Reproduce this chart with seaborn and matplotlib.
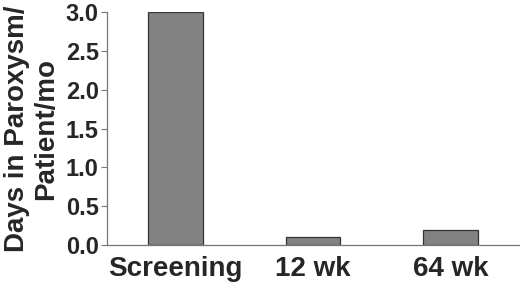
import matplotlib
matplotlib.use("Agg")
import matplotlib.pyplot as plt
import numpy as np
import pandas as pd
import seaborn as sns

# data
categories = ["Screening", "12 wk", "64 wk"]
days = [3.0, 0.1, 0.2]
yticks = [0.0, 0.5, 1.0, 1.5, 2.0, 2.5, 3.0]

sns.set_style("white")
plt.rcParams["font.family"] = ["Liberation Sans", "DejaVu Sans"]
plt.rcParams["font.weight"] = "bold"

df = pd.DataFrame({"period": categories, "days": days})

fig = plt.figure(figsize=(5.2, 2.84), dpi=100)
ax = fig.add_axes([0.206, 0.137, 0.792, 0.821])

sns.barplot(data=df, x="period", y="days", ax=ax, width=0.4,
            color="#828282", saturation=1, edgecolor="#333333", linewidth=0.9)

ax.set_xlim(-0.5, 2.5)
ax.set_ylim(0, 3.0)
ax.set_yticks(yticks)
ax.set_yticklabels(["%.1f" % t for t in yticks], fontsize=17, fontweight="bold")
ax.set_xticks(range(len(categories)))
ax.set_xticklabels(categories, fontsize=20, fontweight="bold")
ax.tick_params(axis="x", which="major", length=0, pad=8)
ax.set_xticks([0.5, 1.5, 2.5], minor=True)
ax.tick_params(axis="x", which="minor", length=4, direction="out", color="#777777", width=0.8)
ax.tick_params(axis="y", length=4, direction="out", color="#777777", width=0.8, pad=2, left=True)

ax.set_xlabel("")
ax.set_ylabel("Days in Paroxysm/\nPatient/mo", fontsize=20, fontweight="bold", labelpad=5, linespacing=1.15)

for side in ["top", "right"]:
    ax.spines[side].set_visible(False)
for side in ["left", "bottom"]:
    ax.spines[side].set_color("#777777")
    ax.spines[side].set_linewidth(0.9)

fig.savefig("out.png", dpi=100)
